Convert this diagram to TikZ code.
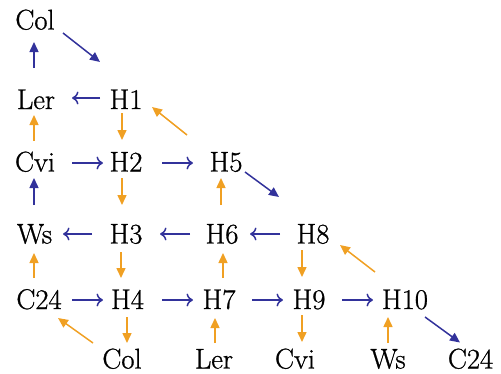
\documentclass[tikz,border=0pt]{standalone}
\usepackage{fontspec}
\newfontfamily\lmr{Latin Modern Roman}[FakeBold=0.9]
\usetikzlibrary{arrows.meta,calc}
\definecolor{ablue}{RGB}{50,50,155}
\definecolor{aorange}{RGB}{240,160,35}
\begin{document}
\begin{tikzpicture}[x=1pt,y=-1pt,
  lab/.style={anchor=base,inner sep=0pt,text height=19pt,text depth=0pt,font={\lmr\fontsize{28.5}{30}\selectfont}},
  bh/.style={ablue,line width=1.5pt,-{Computer Modern Rightarrow[length=6.5pt,width=13pt]}},
  bt/.style={ablue,line width=1.5pt,-{Triangle[length=10pt,width=9pt]}},
  ot/.style={aorange,line width=1.5pt,-{Triangle[length=10pt,width=9pt]}}]
\useasboundingbox (0,0) rectangle (501,373);
% nodes
\node[lab] (colt) at (35,29.5) {Col};
\node[lab] (ler) at (36,109) {Ler};
\node[lab] (h1) at (126,109) {H1};
\node[lab] (cvi) at (35,171.5) {Cvi};
\node[lab] (h2) at (126,171.5) {H2};
\node[lab] (h5) at (226,171.5) {H5};
\node[lab] (ws) at (34.5,243.5) {Ws};
\node[lab] (h3) at (126,243.5) {H3};
\node[lab] (h6) at (222,243.5) {H6};
\node[lab] (h8) at (313,243.5) {H8};
\node[lab] (c24) at (39,309) {C24};
\node[lab] (h4) at (127.5,309) {H4};
\node[lab] (h7) at (219,309) {H7};
\node[lab] (h9) at (309,309) {H9};
\node[lab] (h10) at (405,309) {H10};
\node[lab] (colb) at (122,368.5) {Col};
\node[lab] (lerb) at (214,368.5) {Ler};
\node[lab] (cvib) at (295,368.5) {Cvi};
\node[lab] (wsb) at (388,368.5) {Ws};
\node[lab] (c24b) at (470.5,368.5) {C24};
% blue arrows
\draw[bt] ($(ler)+(-2,-31.5)$) -- ($(colt)+(-1,22)$);
\draw[bt] ($(colt)+(28,13)$) -- ($(h1)+(-26,-37.5)$);
\draw[bh] ($(h1)+(-26,-1.5)$) -- ($(ler)+(36,-1.5)$);
\draw[bh] ($(cvi)+(37,1)$) -- ($(h2)+(-23,1)$);
\draw[bh] ($(h2)+(36,1)$) -- ($(h5)+(-33,1)$);
\draw[bt] ($(ws)+(-0.5,-29)$) -- ($(cvi)+(-1,16)$);
\draw[bt] ($(h5)+(19,10)$) -- ($(h8)+(-34,-37)$);
\draw[bh] ($(h3)+(-34,0)$) -- ($(ws)+(28.5,0)$);
\draw[bh] ($(h6)+(-32,0)$) -- ($(h3)+(34,0)$);
\draw[bh] ($(h8)+(-33,0)$) -- ($(h6)+(28,0)$);
\draw[bh] ($(c24)+(33,0.5)$) -- ($(h4)+(-24.5,0.5)$);
\draw[bh] ($(h4)+(34.5,0.5)$) -- ($(h7)+(-26,0.5)$);
\draw[bh] ($(h7)+(33,0.5)$) -- ($(h9)+(-26,0.5)$);
\draw[bh] ($(h9)+(33,0.5)$) -- ($(h10)+(-32,0.5)$);
\draw[bt] ($(h10)+(20,17.5)$) -- ($(c24b)+(-10.5,-16.5)$);
% orange arrows
\draw[ot] ($(cvi)+(-1,-21)$) -- ($(ler)+(-2,15.5)$);
\draw[ot] ($(h1)+(-4,13.5)$) -- ($(h2)+(-4,-22)$);
\draw[ot] ($(h5)+(-39,-27)$) -- ($(h1)+(26,7.5)$);
\draw[ot] ($(h2)+(-4,16)$) -- ($(h3)+(-4,-29)$);
\draw[ot] ($(h6)+(-1,-29)$) -- ($(h5)+(-5,16)$);
\draw[ot] ($(c24)+(-5,-21.5)$) -- ($(ws)+(-0.5,19)$);
\draw[ot] ($(h3)+(-5,18)$) -- ($(h4)+(-6.5,-21.5)$);
\draw[ot] ($(h7)+(4,-21.5)$) -- ($(h6)+(1,19)$);
\draw[ot] ($(colb)+(-29,-16)$) -- ($(c24)+(19,18.5)$);
\draw[ot] ($(h4)+(-0.5,17.5)$) -- ($(colb)+(5,-16)$);
\draw[ot] ($(lerb)+(1,-16)$) -- ($(h7)+(-4,18.5)$);
\draw[ot] ($(h8)+(-11,16)$) -- ($(h9)+(-7,-22.5)$);
\draw[ot] ($(h10)+(-30,-27.5)$) -- ($(h8)+(27,11)$);
\draw[ot] ($(h9)+(-7,15.5)$) -- ($(cvib)+(7,-17)$);
\draw[ot] ($(wsb)+(0,-16)$) -- ($(h10)+(-17,17.5)$);
\end{tikzpicture}
\end{document}
